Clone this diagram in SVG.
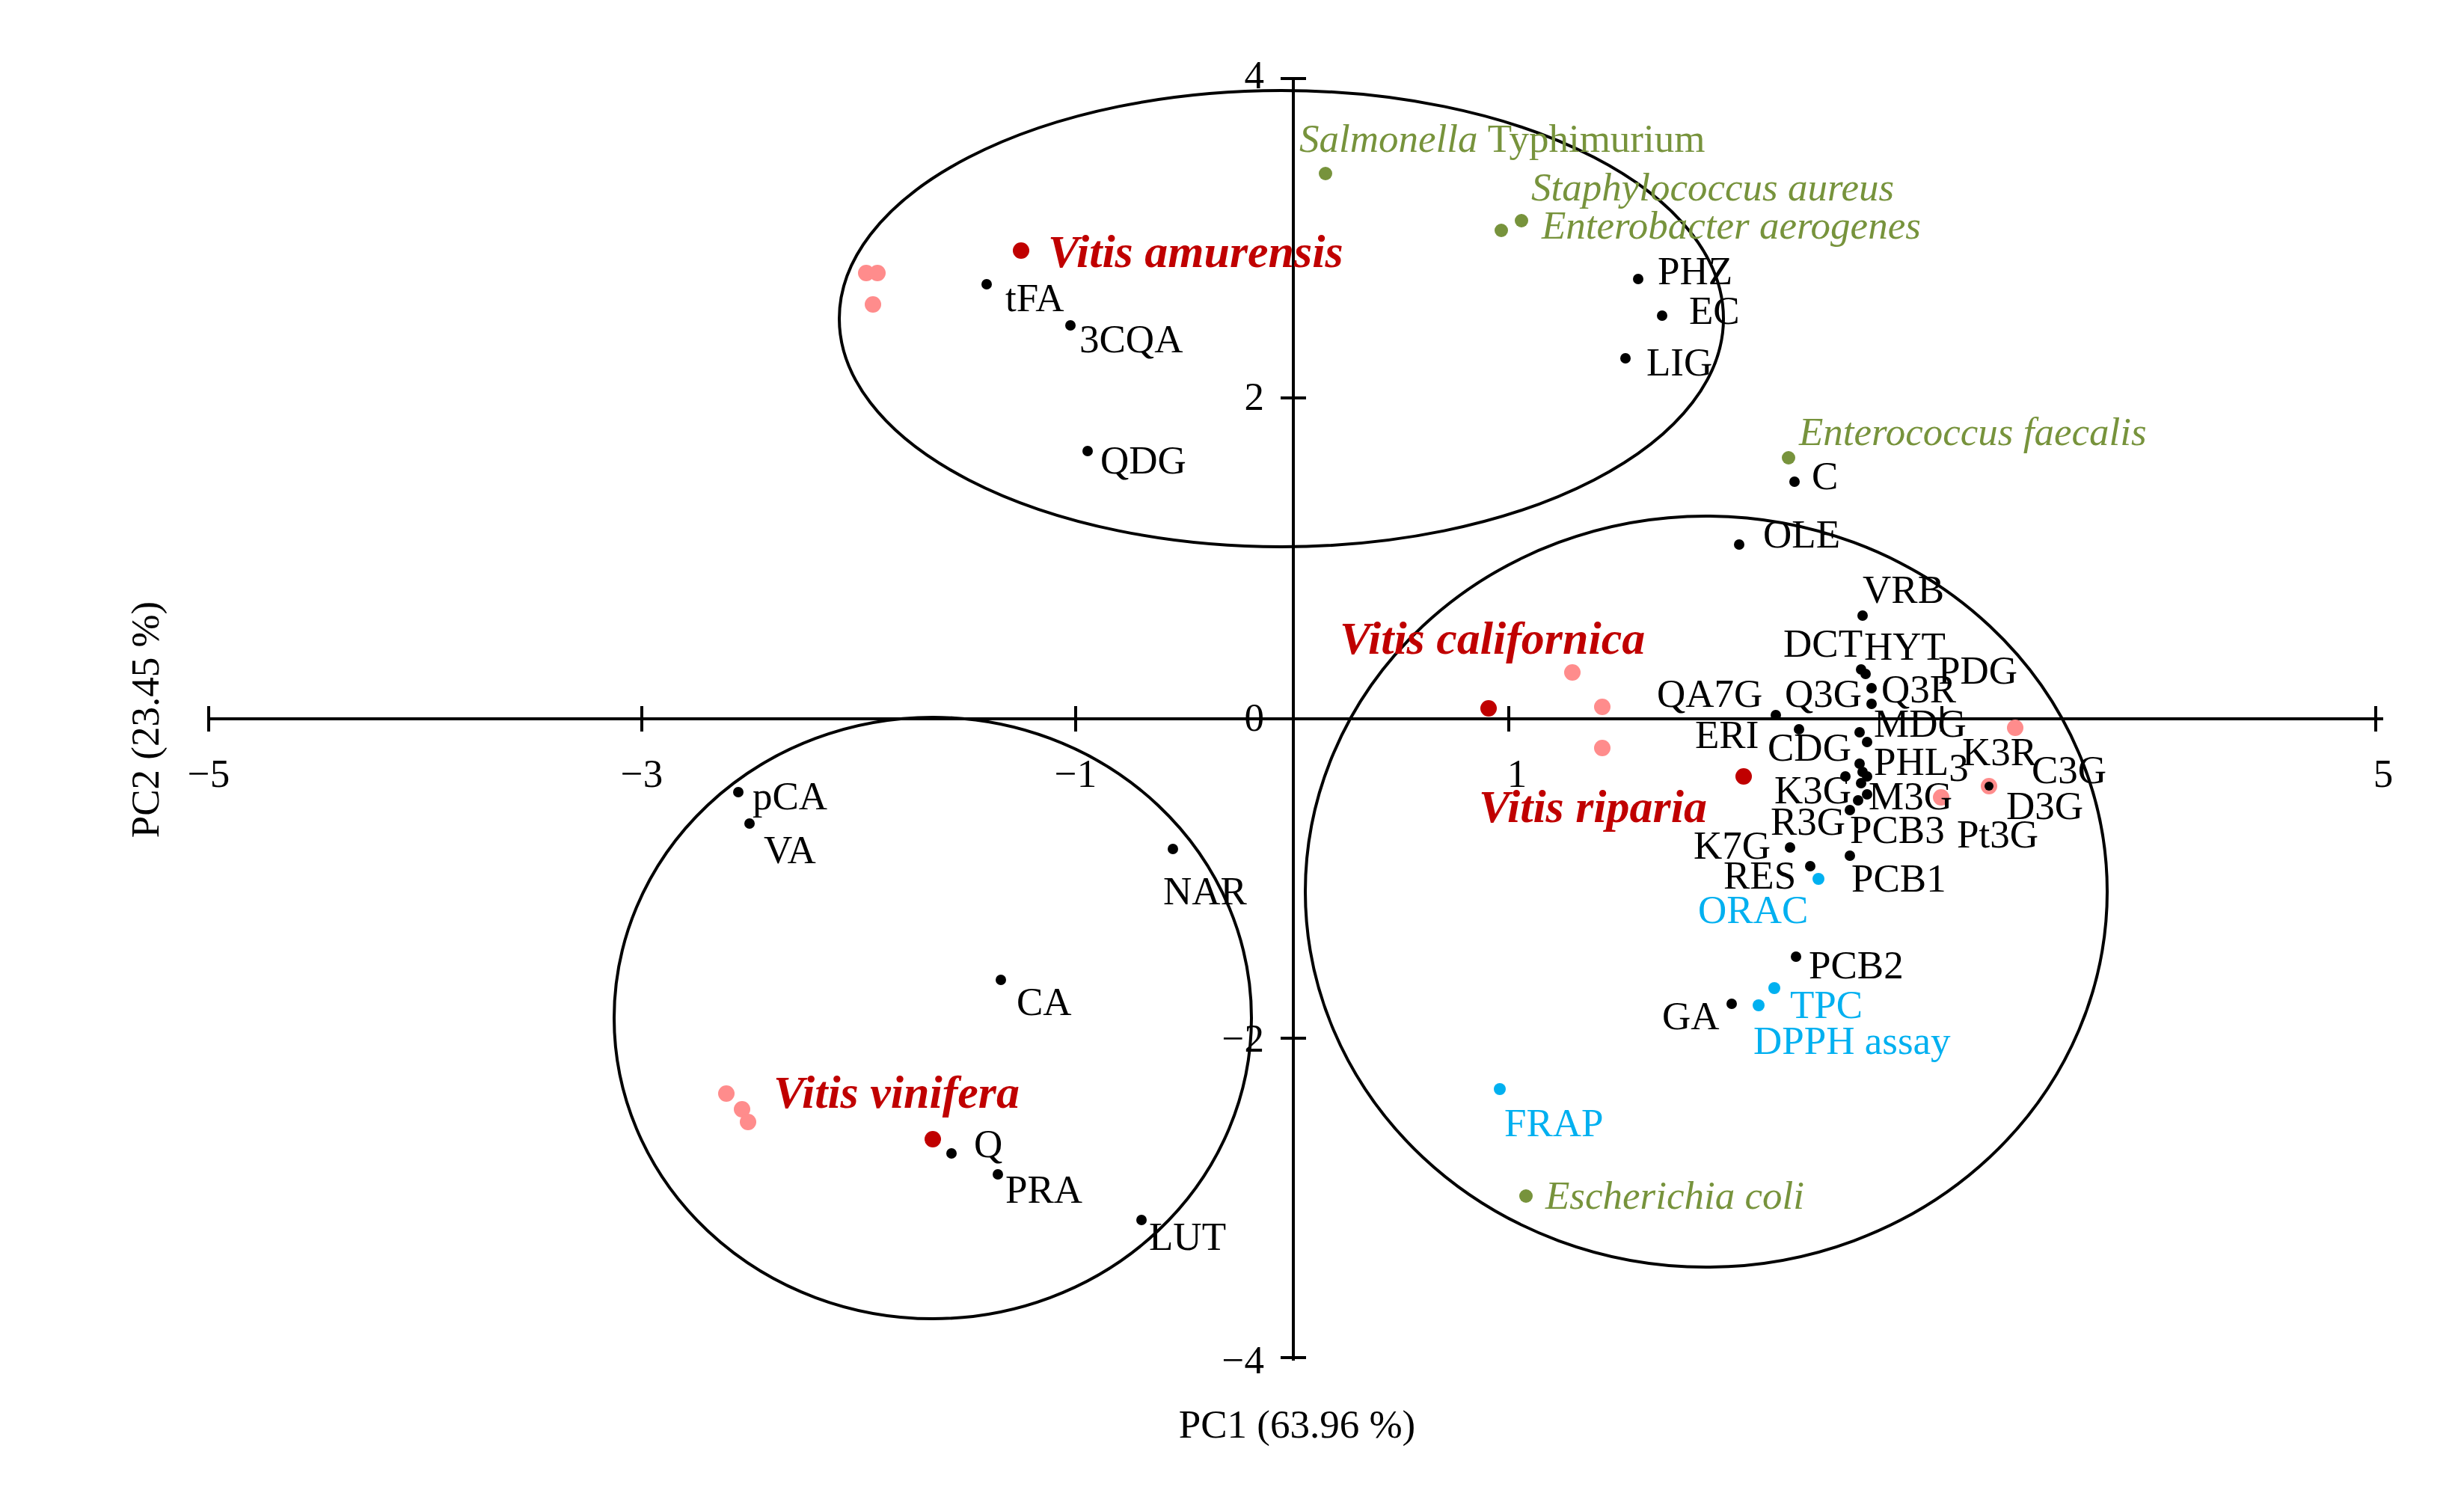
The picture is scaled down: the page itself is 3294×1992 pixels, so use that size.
<svg xmlns="http://www.w3.org/2000/svg" width="3294" height="1992" viewBox="0 0 3294 1992">
<style>
text{font-family:"Liberation Serif","DejaVu Serif",serif;font-size:53px;fill:#000}
.g{fill:#77933C;font-style:italic;font-size:53px}
.r{fill:#C00000;font-style:italic;font-weight:bold;font-size:62px}
.b{fill:#00B0F0}
.tk{font-size:48px}
.k{fill:#000}.dr{fill:#C00000}.pk{fill:#FF8C8C}.gd{fill:#77933C}.bd{fill:#00B0F0}
.ax{stroke:#000;stroke-width:4;fill:none}
.el{stroke:#000;stroke-width:4;fill:none}
</style>
<rect width="3294" height="1992" fill="#fff"/>
<g id="axes">
<path class="ax" d="M279 961H3186M1729 103V1819"/>
<path class="ax" d="M279 944v34M858 944v34M1438 944v34M2017 944v34M2596 944v34M3176 944v34M1712 105h34M1712 532h34M1712 1388h34M1712 1815h34"/>
<g class="tk" text-anchor="middle"><text x="279" y="1052">−5</text><text x="858" y="1052">−3</text><text x="1438" y="1052">−1</text><text x="2028" y="1052">1</text><text x="3186" y="1052">5</text></g>
<g class="tk" text-anchor="end"><text x="1690" y="118">4</text><text x="1690" y="548">2</text><text x="1690" y="977">0</text><text x="1690" y="1406">−2</text><text x="1690" y="1836">−4</text></g>
<text x="1734" y="1922" text-anchor="middle" font-size="56">PC1 (63.96 %)</text>
<text transform="translate(212 962) rotate(-90)" text-anchor="middle" font-size="56">PC2 (23.45 %)</text>
</g>
<g id="ellipses">
<ellipse class="el" cx="1713" cy="426" rx="591" ry="305"/>
<ellipse class="el" cx="1247" cy="1361" rx="426" ry="402"/>
<ellipse class="el" cx="2281" cy="1192" rx="536" ry="502"/>
</g>
<g id="bacteria">
<circle class="gd" cx="1772" cy="232" r="9"/><text class="g" x="1737" y="203">Salmonella <tspan font-style="normal">Typhimurium</tspan></text>
<circle class="gd" cx="2034" cy="295" r="9"/><text class="g" x="2047" y="268">Staphylococcus aureus</text>
<circle class="gd" cx="2007" cy="308" r="9"/><text class="g" x="2061" y="319">Enterobacter aerogenes</text>
<circle class="gd" cx="2391" cy="612" r="9"/><text class="g" x="2405" y="595">Enterococcus faecalis</text>
<circle class="gd" cx="2040" cy="1599" r="9"/><text class="g" x="2066" y="1616">Escherichia coli</text>
</g>
<g id="species">
<circle class="dr" cx="1365" cy="335" r="11"/><circle class="pk" cx="1158" cy="365" r="11"/><circle class="pk" cx="1173" cy="365" r="11"/><circle class="pk" cx="1167" cy="407" r="11"/>
<text class="r" x="1401" y="357">Vitis amurensis</text>
<circle class="dr" cx="1990" cy="947" r="11"/><circle class="pk" cx="2102" cy="899" r="11"/><circle class="pk" cx="2142" cy="945" r="11"/><circle class="pk" cx="2142" cy="1000" r="11"/>
<text class="r" x="1791" y="874">Vitis californica</text>
<circle class="dr" cx="2331" cy="1038" r="11"/><circle class="pk" cx="2694" cy="973" r="11"/><circle class="pk" cx="2595" cy="1066" r="11"/><circle class="pk" cx="2659" cy="1051" r="11"/>
<text class="r" x="1977" y="1099">Vitis riparia</text>
<circle class="dr" cx="1247" cy="1523" r="11"/><circle class="pk" cx="971" cy="1462" r="11"/><circle class="pk" cx="992" cy="1483" r="11"/><circle class="pk" cx="1000" cy="1500" r="11"/>
<text class="r" x="1034" y="1481">Vitis vinifera</text>
</g>
<g id="compounds">
<g class="k">
<circle cx="1319" cy="380" r="7"/><circle cx="1431" cy="435" r="7"/><circle cx="1454" cy="603" r="7"/>
<circle cx="2190" cy="373" r="7"/><circle cx="2222" cy="422" r="7"/><circle cx="2173" cy="479" r="7"/>
<circle cx="2399" cy="644" r="7"/><circle cx="2325" cy="728" r="7"/><circle cx="2490" cy="823" r="7"/>
<circle cx="2488" cy="895" r="7"/><circle cx="2494" cy="901" r="7"/><circle cx="2502" cy="920" r="7"/><circle cx="2502" cy="941" r="7"/>
<circle cx="2374" cy="956" r="7"/><circle cx="2486" cy="979" r="7"/><circle cx="2496" cy="992" r="7"/><circle cx="2405" cy="975" r="7"/>
<circle cx="2486" cy="1021" r="7"/><circle cx="2490" cy="1032" r="7"/><circle cx="2496" cy="1038" r="7"/><circle cx="2488" cy="1047" r="7"/><circle cx="2467" cy="1038" r="7"/><circle cx="2496" cy="1062" r="7"/><circle cx="2484" cy="1070" r="7"/><circle cx="2473" cy="1083" r="7"/>
<circle cx="2659" cy="1051" r="6"/>
<circle cx="2393" cy="1133" r="7"/><circle cx="2420" cy="1158" r="7"/><circle cx="2473" cy="1144" r="7"/>
<circle cx="2401" cy="1279" r="7"/><circle cx="2315" cy="1342" r="7"/>
<circle cx="987" cy="1059" r="7"/><circle cx="1002" cy="1101" r="7"/><circle cx="1568" cy="1135" r="7"/><circle cx="1338" cy="1310" r="7"/>
<circle cx="1272" cy="1542" r="7"/><circle cx="1334" cy="1570" r="7"/><circle cx="1526" cy="1631" r="7"/>
</g>
<text x="1344" y="416">tFA</text><text x="1443" y="471">3CQA</text><text x="1471" y="633">QDG</text>
<text x="2216" y="380">PHZ</text><text x="2258" y="433">EC</text><text x="2201" y="502">LIG</text>
<text x="2422" y="654">C</text><text x="2357" y="732">OLE</text><text x="2490" y="806">VRB</text>
<text x="2384" y="878">DCT</text><text x="2492" y="882">HYT</text><text x="2591" y="914">PDG</text>
<text x="2515" y="939">Q3R</text><text x="2215" y="945">QA7G</text><text x="2386" y="945">Q3G</text>
<text x="2505" y="985">MDG</text><text x="2266" y="1000">ERI</text><text x="2363" y="1017">CDG</text>
<text x="2505" y="1036">PHL<tspan dy="8">3</tspan></text><text x="2623" y="1023">K3R</text><text x="2716" y="1047">C3G</text>
<text x="2372" y="1074">K3G</text><text x="2498" y="1082">M3G</text><text x="2682" y="1095">D3G</text>
<text x="2367" y="1116">R3G</text><text x="2473" y="1127">PCB3</text><text x="2616" y="1133">Pt3G</text>
<text x="2264" y="1148">K7G</text><text x="2304" y="1188">RES</text><text x="2475" y="1192">PCB1</text>
<text x="2418" y="1308">PCB2</text><text x="2222" y="1376">GA</text>
<text x="1006" y="1082">pCA</text><text x="1021" y="1154">VA</text><text x="1555" y="1209">NAR</text><text x="1359" y="1357">CA</text>
<text x="1302" y="1547">Q</text><text x="1344" y="1608">PRA</text><text x="1536" y="1671">LUT</text>
</g>
<g id="assays">
<circle class="bd" cx="2431" cy="1175" r="8"/><text class="b" x="2270" y="1234">ORAC</text>
<circle class="bd" cx="2372" cy="1321" r="8"/><text class="b" x="2393" y="1361">TPC</text>
<circle class="bd" cx="2351" cy="1344" r="8"/><text class="b" x="2344" y="1409">DPPH assay</text>
<circle class="bd" cx="2005" cy="1456" r="8"/><text class="b" x="2011" y="1519">FRAP</text>
</g>
</svg>
